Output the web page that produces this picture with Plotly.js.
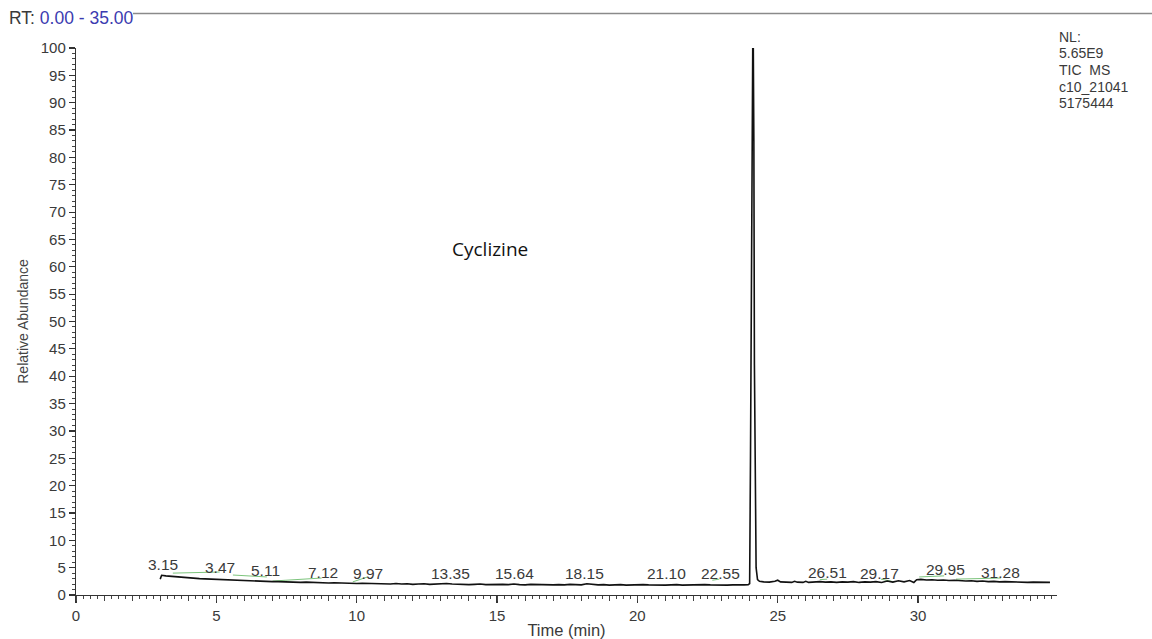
<!DOCTYPE html>
<html>
<head>
<meta charset="utf-8">
<script src="https://cdn.plot.ly/plotly-3.0.1.min.js"></script>
<style>
  html, body { margin: 0; padding: 0; background: #ffffff; }
  #chart { width: 1152px; height: 639px; }
</style>
</head>
<body>
<div id="chart"></div>
<script>
// Total ion chromatogram, cyclizine run
const retentionTime = [
  3.00, 3.05, 3.2, 3.4, 3.6, 3.8, 4.0, 4.2, 4.4, 4.6, 4.8, 5.0, 5.2, 5.4, 5.6, 5.8,
  6.0, 6.2, 6.4, 6.6, 6.8, 7.0, 7.2, 7.4, 7.6, 7.8, 8.0, 8.2, 8.4, 8.6, 8.8,
  9.0, 9.2, 9.4, 9.6, 9.8, 10.0, 10.2, 10.4, 10.6, 10.8, 11.0, 11.2, 11.4, 11.6, 11.8,
  12.0, 12.2, 12.4, 12.6, 12.8, 13.0, 13.2, 13.4, 13.6, 13.8, 14.0, 14.2, 14.4, 14.6, 14.8,
  15.0, 15.2, 15.4, 15.6, 15.8, 16.0, 16.2, 16.4, 16.6, 16.8, 17.0, 17.2, 17.4, 17.6, 17.8,
  18.0, 18.2, 18.4, 18.6, 18.8, 19.0, 19.2, 19.4, 19.6, 19.8, 20.0, 20.2, 20.4, 20.6, 20.8,
  21.0, 21.2, 21.4, 21.6, 21.8, 22.0, 22.2, 22.4, 22.6, 22.8, 23.0, 23.2, 23.4, 23.6, 23.8,
  23.95, 24.00, 24.03, 24.06, 24.08, 24.11, 24.13, 24.15, 24.17, 24.20, 24.23, 24.28, 24.35,
  24.5, 24.7, 24.9, 25.0, 25.1, 25.3, 25.5, 25.6, 25.7, 25.9, 26.0, 26.1, 26.3, 26.5, 26.7, 26.9,
  27.1, 27.3, 27.5, 27.7, 27.9, 28.1, 28.3, 28.5, 28.7, 28.9, 29.1, 29.3, 29.5, 29.7, 29.85,
  29.95, 30.1, 30.3, 30.5, 30.7, 30.9, 31.1, 31.3, 31.5, 31.7, 31.9, 32.1, 32.3, 32.5, 32.7,
  32.9, 33.1, 33.3, 33.5, 33.7, 33.9, 34.1, 34.3, 34.5, 34.7
];
const relativeAbundance = [
  2.9, 3.6, 3.5, 3.4, 3.3, 3.25, 3.15, 3.1, 3.0, 2.95, 2.9, 2.85, 2.85, 2.75, 2.7, 2.7,
  2.6, 2.6, 2.55, 2.5, 2.5, 2.45, 2.45, 2.4, 2.35, 2.4, 2.3, 2.35, 2.3, 2.25, 2.3,
  2.2, 2.25, 2.2, 2.15, 2.2, 2.1, 2.15, 2.1, 2.05, 2.1, 2.05, 2.0, 2.1, 2.0, 2.05,
  1.95, 2.0, 2.05, 1.95, 2.0, 1.95, 2.1, 2.0, 1.95, 2.0, 1.9, 1.95, 2.0, 1.9, 1.95,
  1.9, 1.95, 1.9, 2.0, 1.9, 1.85, 1.95, 1.9, 1.85, 1.9, 1.85, 1.9, 1.85, 1.95, 1.9,
  1.85, 2.05, 1.9, 1.85, 1.9, 1.8, 1.85, 1.9, 1.8, 1.85, 1.8, 1.9, 1.85, 1.8, 1.85,
  1.8, 1.85, 1.9, 1.8, 1.85, 1.8, 1.85, 1.9, 1.85, 1.8, 1.85, 1.8, 1.85, 1.8, 1.85,
  1.9, 2.1, 25.0, 58.0, 83.0, 100.0, 100.0, 83.0, 42.0, 18.0, 5.0, 2.8, 2.5,
  2.4, 2.35, 2.5, 2.7, 2.4, 2.35, 2.3, 2.5, 2.35, 2.3, 2.5, 2.3, 2.4, 2.45, 2.35, 2.4,
  2.3, 2.4, 2.35, 2.45, 2.3, 2.4, 2.35, 2.45, 2.3, 2.55, 2.35, 2.6, 2.4, 2.65, 2.3,
  2.8, 2.85, 2.75, 2.8, 2.7, 2.75, 2.65, 2.7, 2.6, 2.55, 2.6, 2.5, 2.55, 2.45, 2.5,
  2.4, 2.45, 2.4, 2.35, 2.4, 2.3, 2.35, 2.3, 2.25, 2.3
];

// Peak integration baselines (segments separated by null)
const baselineTime = [
  3.45, 5.12, null, 5.59, 6.80, null, 7.00, 8.75, null, 9.86, 10.39, null,
  22.67, 22.92, null, 26.50, 26.76, null, 28.68, 29.15, null, 30.04, 30.93, null,
  31.35, 32.95
];
const baselineLevel = [
  4.0, 4.2, null, 3.65, 3.3, null, 2.55, 3.1, null, 2.4, 3.3, null,
  2.7, 2.9, null, 2.8, 2.9, null, 2.9, 2.4, null, 3.3, 3.5, null,
  2.9, 3.1
];

// Peak apex labels and where each one sits on the time axis
const peakLabels = ["3.15", "3.47", "5.11", "7.12", "9.97", "13.35", "15.64", "18.15",
  "21.10", "22.55", "24.12", "26.51", "29.17", "29.95", "31.28"];
const peakLabelTime = [3.10, 5.12, 6.76, 8.79, 10.39, 13.35, 15.62, 18.11,
  21.03, 22.95, 24.06, 26.76, 28.61, 30.96, 32.95];
const peakLabelLevel = [5.5, 5.1, 4.4, 4.2, 4.0, 4.0, 4.0, 4.0,
  4.0, 4.0, 101.9, 4.2, 4.0, 4.75, 4.2];

const infoLines = ["NL:", "5.65E9", "TIC  MS", "c10_21041", "5175444"];

const FONT = "Liberation Sans, Arial, sans-serif";
const TEXT = "#3a3a3a";

// plot area in pixels
const PLOT_BOTTOM = 595, PLOT_H = 547.5, PLOT_LEFT = 76, PLOT_W = 981;
const py = p => (PLOT_BOTTOM - p) / PLOT_H;
const px = p => (p - PLOT_LEFT) / PLOT_W;

const traces = [
  {
    x: baselineTime, y: baselineLevel, type: "scatter", mode: "lines",
    line: { color: "#7cc47c", width: 1 }, connectgaps: false,
    hoverinfo: "skip", showlegend: false
  },
  {
    x: retentionTime, y: relativeAbundance, type: "scatter", mode: "lines",
    line: { color: "#111111", width: 1.6 }, showlegend: false
  },
  {
    // carries the 1-min intermediate ticks of the time axis
    x: [0, 34.95], y: [null, null], xaxis: "x2", yaxis: "y",
    type: "scatter", mode: "lines", showlegend: false, hoverinfo: "skip"
  }
];

const annotations = peakLabels.map((t, i) => ({
  x: peakLabelTime[i], y: peakLabelLevel[i], xref: "x", yref: "y",
  text: t, showarrow: false, xanchor: "center", yanchor: "middle",
  font: { family: FONT, size: 15.5, color: TEXT }
}));

infoLines.forEach((t, i) => {
  annotations.push({
    x: px(1057), y: py(36 + i * 16.7), xref: "paper", yref: "paper",
    text: t, showarrow: false, xanchor: "left", yanchor: "middle",
    font: { family: FONT, size: 14, color: TEXT }
  });
});

annotations.push({
  x: 14.75, y: 63.2, xref: "x", yref: "y", text: "Cyclizine", showarrow: false,
  xanchor: "center", yanchor: "middle",
  font: { family: "Open Sans, Noto Sans, sans-serif", size: 19, color: "#111111" }
});

annotations.push({
  x: px(7), y: py(17), xref: "paper", yref: "paper",
  text: "RT:<span style='color:#3b3bb0'> 0.00 - 35.00</span>",
  showarrow: false, xanchor: "left", yanchor: "middle",
  font: { family: FONT, size: 17.5, color: TEXT }
});

const layout = {
  width: 1152, height: 639,
  margin: { l: PLOT_LEFT, r: 1152 - PLOT_LEFT - PLOT_W, t: PLOT_BOTTOM - PLOT_H, b: 639 - PLOT_BOTTOM, pad: 0 },
  paper_bgcolor: "#ffffff", plot_bgcolor: "#ffffff",
  showlegend: false,
  font: { family: FONT, color: TEXT },
  xaxis: {
    range: [0, 34.95], dtick: 5, tick0: 0,
    showgrid: false, zeroline: false,
    showline: true, linecolor: "#333333", linewidth: 1.2,
    ticks: "outside", ticklen: 7, tickwidth: 1.2, tickcolor: "#333333",
    minor: { dtick: 0.25, ticks: "outside", ticklen: 3, tickwidth: 1, tickcolor: "#444444", showgrid: false },
    tickfont: { family: FONT, size: 15, color: TEXT },
    title: { text: "Time (min)", font: { family: FONT, size: 16.5, color: TEXT }, standoff: 1 },
    fixedrange: true
  },
  xaxis2: {
    overlaying: "x", anchor: "y", side: "bottom",
    range: [0, 34.95], dtick: 1, tick0: 0,
    showgrid: false, zeroline: false, showline: false,
    ticks: "outside", ticklen: 5, tickwidth: 1, tickcolor: "#444444",
    showticklabels: false, fixedrange: true
  },
  yaxis: {
    range: [0, 100], dtick: 5, tick0: 0,
    showgrid: false, zeroline: false,
    showline: true, linecolor: "#333333", linewidth: 1.2,
    ticks: "outside", ticklen: 6, tickwidth: 1.2, tickcolor: "#333333",
    minor: { dtick: 1, ticks: "outside", ticklen: 3, tickwidth: 1, tickcolor: "#444444", showgrid: false },
    tickfont: { family: FONT, size: 15, color: TEXT },
    title: { text: "Relative Abundance", font: { family: FONT, size: 14, color: "#444444" }, standoff: 8 },
    fixedrange: true
  },
  shapes: [
    {
      type: "line", xref: "paper", yref: "paper",
      x0: px(133), x1: px(1152), y0: py(13), y1: py(13),
      line: { color: "#8a8a8a", width: 1.5 }
    }
  ],
  annotations: annotations
};

Plotly.newPlot("chart", traces, layout, { displayModeBar: false, staticPlot: true });
</script>
</body>
</html>
